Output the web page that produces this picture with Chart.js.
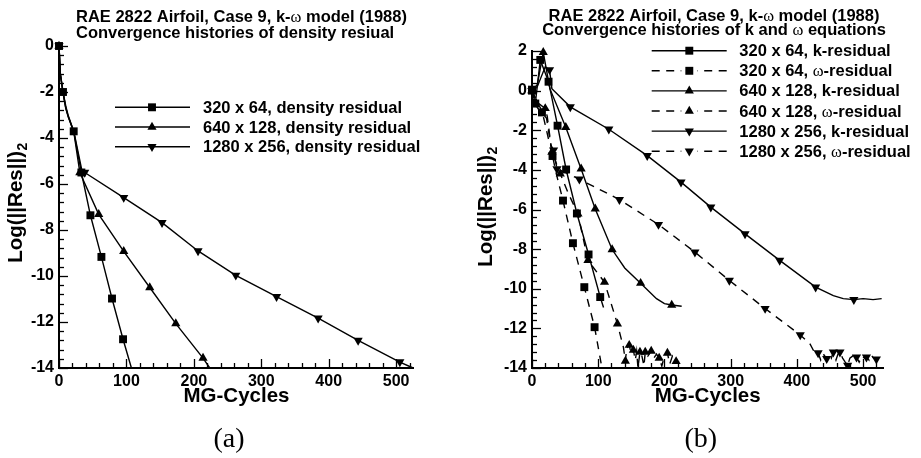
<!DOCTYPE html>
<html>
<head>
<meta charset="utf-8">
<script src="https://cdn.jsdelivr.net/npm/chart.js@4.4.1/dist/chart.umd.min.js"></script>
<style>
  html, body { margin: 0; padding: 0; background: #fff; }
  #wrap { position: relative; width: 921px; height: 458px; overflow: hidden; background: #fff; }
  canvas { position: absolute; top: 0; }
  #panelA { left: 0; }
  #panelB { left: 460px; }
</style>
</head>
<body>
<div id="wrap">
  <canvas id="panelA" width="460" height="458"></canvas>
  <canvas id="panelB" width="461" height="458"></canvas>
</div>
<script>
// ---- Panel (a): density residual histories (x = MG cycles, y = log10 of the L2 residual) ----
const cycA320 = [0, 2, 5.9, 10, 13.4, 21.8, 33.2, 46.6, 62.9, 78.6, 95, 107.4];
const resA320 = [0, -1.2, -2.0, -2.6, -3.0, -3.71, -5.5, -7.36, -9.17, -10.98, -12.75, -14];
const symA320 = [1, 0, 1, 0, 0, 1, 1, 1, 1, 1, 1, 0];

const cycA640 = [0, 2, 6, 10, 14, 22, 30.9, 58.9, 96, 134.6, 173.2, 213.6, 223.6];
const resA640 = [0, -1.25, -2.05, -2.7, -3.1, -3.75, -5.5, -7.32, -8.93, -10.5, -12.07, -13.57, -14];
const symA640 = [1, 0, 0, 0, 0, 0, 1, 1, 1, 1, 1, 1, 0];

const cycA1280 = [0, 2, 6, 10, 14, 22, 34, 38.1, 96, 152.8, 206.2, 262.2, 322.6, 384.3, 443.6, 505.5, 525.2];
const resA1280 = [0, -1.2, -2.0, -2.7, -3.1, -3.72, -5.42, -5.5, -6.59, -7.68, -8.91, -9.97, -10.9, -11.83, -12.8, -13.74, -14];
const symA1280 = [1, 0, 0, 0, 0, 0, 0, 1, 1, 1, 1, 1, 1, 1, 1, 1, 0];

// ---- Panel (b): k and omega equation residual histories ----
const cycB320k = [0, 5, 12.5, 25, 38.6, 51.5, 67.8, 85.4, 103, 108];
const resB320k = [0.05, -0.65, 1.55, 0.45, -1.77, -3.98, -6.2, -8.27, -10.42, -10.95];
const symB320k = [1, 1, 1, 1, 1, 1, 1, 1, 1, 0];

const cycB320w = [0, 5, 10, 15, 22, 31, 36, 46.8, 61.8, 79, 94.5, 105.6];
const resB320w = [0, -0.7, -0.95, -1.1, -1.4, -3.3, -4.1, -5.55, -7.7, -9.92, -11.94, -14];
const symB320w = [1, 0, 0, 1, 0, 1, 0, 1, 1, 1, 1, 0];

const cycB640k = [0, 8, 17, 27, 51, 74.2, 95.5, 121, 140, 164, 188, 200, 211, 226];
const resB640k = [0, 0.3, 1.93, 0.1, -1.85, -3.95, -5.97, -8.02, -8.95, -9.72, -10.5, -10.75, -10.82, -10.88];
const symB640k = [1, 0, 1, 0, 1, 1, 1, 1, 0, 1, 0, 0, 1, 0];

const cycB640w = [0, 8, 20, 23, 30, 42.7, 55, 69.4, 84.5, 109.5, 129, 138, 141, 143, 146.8, 150, 153, 156, 158, 160,
                  163, 166, 169, 171, 175, 180, 184, 188, 192, 196, 200, 204.5, 208, 212, 217.6, 222];
const resB640w = [0, -0.6, -0.9, -1.3, -3.1, -4.2, -5.2, -6.22, -8.57, -9.67, -11.77, -12.95, -13.65, -13.0, -12.85, -13.3, -13.1, -13.6, -13.15, -14,
                  -13.2, -13.4, -13.9, -13.2, -13.4, -13.15, -13.5, -13.3, -13.5, -13.9, -13.4, -13.25, -13.8, -13.4, -13.67, -13.7];
const symB640w = [1, 0, 1, 0, 1, 1, 0, 1, 1, 1, 1, 0, 1, 0, 1, 0, 1, 0, 0, 0,
                  1, 0, 0, 1, 0, 1, 0, 0, 1, 0, 0, 1, 0, 0, 1, 0];

const cycB1280k = [0, 8, 20, 26.5, 30, 57.8, 116, 174, 225, 270, 321.7, 374, 428.3, 455, 470, 486, 500, 515, 528];
const resB1280k = [0, 0.2, 1.2, 1.05, 0.1, -0.82, -1.95, -3.28, -4.62, -5.88, -7.23, -8.57, -9.92, -10.35, -10.5, -10.55, -10.5, -10.55, -10.5];
const symB1280k = [1, 0, 0, 1, 0, 1, 1, 1, 1, 1, 1, 1, 1, 0, 0, 1, 0, 0, 0];

const cycB1280w = [0, 8, 15, 26, 32.6, 37.7, 55, 71.5, 132, 191, 246, 298, 352, 405, 420, 428, 432, 436, 440, 445,
                   449, 452, 455, 459, 462, 465, 469, 473, 476.6, 480, 484, 487, 490, 494, 498, 502, 505, 509, 512, 516,
                   520, 524, 528];
const resB1280w = [0, -0.6, -1.0, -2.6, -3.0, -3.95, -4.2, -4.47, -5.5, -6.76, -8.15, -9.58, -11.0, -12.33, -12.8, -13.3, -13.24, -13.6, -13.3, -13.53,
                   -13.3, -13.5, -13.2, -13.6, -13.3, -13.2, -13.5, -13.7, -13.87, -13.5, -13.4, -13.6, -13.45, -13.7, -13.4, -13.5, -13.45, -13.6, -13.35, -13.5,
                   -13.55, -13.45, -13.55];
const symB1280w = [1, 0, 0, 0, 1, 1, 0, 1, 1, 1, 1, 1, 1, 1, 0, 0, 1, 0, 0, 1,
                   0, 0, 1, 0, 0, 1, 0, 0, 1, 0, 0, 0, 1, 0, 0, 0, 1, 0, 0, 0,
                   1, 0, 0];

// ---- Text ----
const titleA = ['RAE 2822 Airfoil, Case 9, k-ω model (1988)', 'Convergence histories of density resiual'];
const titleB = ['RAE 2822 Airfoil, Case 9, k-ω model (1988)', 'Convergence histories of k and ω equations'];
const legendA = ['320 x 64, density residual', '640 x 128, density residual', '1280 x 256, density residual'];
const legendB = ['320 x 64, k-residual', '320 x 64, ω-residual', '640 x 128, k-residual',
                 '640 x 128, ω-residual', '1280 x 256, k-residual', '1280 x 256, ω-residual'];
const xLabel = 'MG-Cycles';
const yLabel = 'Log(||Res||)';
const yLabelSub = '2';

const SANS = "'Liberation Sans', Arial, Helvetica, sans-serif";
const SERIF = "'Liberation Serif', 'Times New Roman', serif";
const INK = '#000';
const DASH = [8, 6.5];
const MARK_R = { sq: 5.6, up: 5.3, dn: 5.3 };

// Marker glyph with the same geometry Chart.js uses for 'rect' / 'triangle'
function glyph(ctx, sym, x, y) {
  const r = MARK_R[sym];
  ctx.beginPath();
  if (sym === 'sq') {
    const s = Math.SQRT1_2 * r;
    ctx.rect(x - s, y - s, 2 * s, 2 * s);
  } else {
    const k = sym === 'dn' ? -1 : 1;
    ctx.moveTo(x, y - k * r);
    ctx.lineTo(x + r * Math.cos(Math.PI / 6), y + k * r / 2);
    ctx.lineTo(x - r * Math.cos(Math.PI / 6), y + k * r / 2);
    ctx.closePath();
  }
  ctx.fill();
}

// Bold sans text with the Greek omega set in a lighter serif face
function richText(ctx, str, x, y, size, align) {
  const segs = [];
  str.split('ω').forEach((p, i, arr) => {
    if (p) segs.push({ t: p, f: `bold ${size}px ${SANS}` });
    if (i < arr.length - 1) segs.push({ t: 'ω', f: `${size}px ${SERIF}` });
  });
  let w = 0;
  segs.forEach(s => { ctx.font = s.f; s.w = ctx.measureText(s.t).width; w += s.w; });
  let cx = align === 'center' ? x - w / 2 : x;
  ctx.textAlign = 'left';
  segs.forEach(s => { ctx.font = s.f; ctx.fillText(s.t, cx, y); cx += s.w; });
}

const decor = {
  id: 'decor',
  beforeDatasetsDraw(chart, args, o) {
    const ctx = chart.ctx, xs = chart.scales.x, ys = chart.scales.y, a = chart.chartArea;
    ctx.save();
    ctx.strokeStyle = INK;
    ctx.lineWidth = 1.3;
    const seg = (x1, y1, x2, y2) => { ctx.beginPath(); ctx.moveTo(x1, y1); ctx.lineTo(x2, y2); ctx.stroke(); };
    // inward major / minor ticks (4 minor ticks between labels)
    for (let i = 0; i * 20 <= xs.max + 1e-9; i++) {
      const px = Math.round(xs.getPixelForValue(i * 20)) + 0.5;
      seg(px, a.bottom, px, a.bottom - (i % 5 === 0 ? 9 : 5));
    }
    for (let i = 0; ys.min + i * 0.4 <= ys.max + 1e-9; i++) {
      const py = Math.round(ys.getPixelForValue(ys.min + i * 0.4)) + 0.5;
      seg(a.left, py, a.left + (i % 5 === 0 ? 9 : 5), py);
    }
    ctx.restore();
  },
  afterDraw(chart, args, o) {
    const ctx = chart.ctx;
    ctx.save();
    ctx.fillStyle = INK;
    ctx.textBaseline = 'alphabetic';
    // two-line heading
    o.title.forEach((t, i) => richText(ctx, t, o.titleX, o.titleY[i], 16.5, o.titleAlign));
    // legend block
    o.legend.forEach((t, i) => {
      const y = o.legY0 + i * o.legDy;
      const s = o.series[i];
      ctx.strokeStyle = INK;
      ctx.lineWidth = 1.4;
      if (s.dash) {
        ctx.setLineDash(DASH);
        ctx.beginPath(); ctx.moveTo(o.legX0, y); ctx.lineTo(o.legXm - 8, y); ctx.stroke();
        ctx.beginPath(); ctx.moveTo(o.legX1, y); ctx.lineTo(o.legXm + 8, y); ctx.stroke();
        ctx.setLineDash([]);
      } else {
        ctx.beginPath(); ctx.moveTo(o.legX0, y); ctx.lineTo(o.legX1, y); ctx.stroke();
      }
      glyph(ctx, s.sym, o.legXm, y);
      richText(ctx, t, o.legText, y + 5.5, 16.5, 'left');
    });
    // x axis title
    ctx.font = `bold 20.5px ${SANS}`;
    ctx.textAlign = 'center';
    ctx.fillText(xLabel, o.xTitle[0], o.xTitle[1]);
    // rotated y axis title with subscript
    ctx.save();
    ctx.translate(o.yTitle[0], o.yTitle[1]);
    ctx.rotate(-Math.PI / 2);
    ctx.textAlign = 'left';
    ctx.font = `bold 20.5px ${SANS}`;
    const w1 = ctx.measureText(yLabel).width;
    ctx.font = `bold 14px ${SANS}`;
    const w2 = ctx.measureText(yLabelSub).width;
    const x0 = -(w1 + w2) / 2;
    ctx.font = `bold 20.5px ${SANS}`;
    ctx.fillText(yLabel, x0, 0);
    ctx.font = `bold 14px ${SANS}`;
    ctx.fillText(yLabelSub, x0 + w1 + 0.5, 5);
    ctx.restore();
    // panel caption
    ctx.font = `28px ${SERIF}`;
    ctx.textAlign = 'center';
    ctx.fillText(o.caption, o.capXY[0], o.capXY[1]);
    ctx.restore();
  }
};

function toDatasets(list) {
  return list.map(s => ({
    data: s.cyc.map((x, i) => ({ x, y: s.res[i] })),
    showLine: true,
    borderColor: INK,
    borderWidth: 1.4,
    borderDash: s.dash ? DASH : [],
    tension: 0,
    pointStyle: s.sym === 'sq' ? 'rect' : 'triangle',
    pointRotation: s.sym === 'dn' ? 180 : 0,
    pointRadius: c => (s.marks[c.dataIndex] ? MARK_R[s.sym] : 0),
    pointHoverRadius: 0,
    pointBackgroundColor: INK,
    pointBorderColor: INK,
    pointBorderWidth: 0,
    clip: { left: 12, top: 12, right: 12, bottom: 1 }
  }));
}

function buildPanel(id, list, cfg) {
  const tickFont = { family: SANS, size: 16, weight: 'bold' };
  return new Chart(document.getElementById(id), {
    type: 'scatter',
    data: { datasets: toDatasets(list) },
    options: {
      responsive: false,
      animation: false,
      events: [],
      layout: { padding: { left: 0, top: cfg.top, right: cfg.right, bottom: 0 } },
      plugins: {
        legend: { display: false },
        tooltip: { enabled: false },
        decor: Object.assign({ series: list }, cfg)
      },
      scales: {
        x: {
          type: 'linear', min: 0, max: cfg.xMax,
          afterFit: s => { s.height = 90; },
          grid: { display: false, drawTicks: false },
          border: { display: true, color: INK, width: 2 },
          ticks: { stepSize: 100, includeBounds: false, padding: 4, color: INK, font: tickFont,
                   maxRotation: 0, autoSkip: false }
        },
        y: {
          type: 'linear', min: -14, max: cfg.yMax,
          afterFit: s => { s.width = cfg.yW; },
          grid: { display: false, drawTicks: false },
          border: { display: true, color: INK, width: 2 },
          ticks: { stepSize: 2, includeBounds: false, padding: 5, color: INK, font: tickFont, autoSkip: false }
        }
      }
    },
    plugins: [decor]
  });
}

buildPanel('panelA', [
  { cyc: cycA320, res: resA320, marks: symA320, sym: 'sq', dash: false },
  { cyc: cycA640, res: resA640, marks: symA640, sym: 'up', dash: false },
  { cyc: cycA1280, res: resA1280, marks: symA1280, sym: 'dn', dash: false }
], {
  top: 46, right: 47, yW: 59, xMax: 525, yMax: 0,
  title: titleA, titleX: 76, titleY: [22, 37.5], titleAlign: 'left',
  legend: legendA, legX0: 115, legX1: 190, legXm: 152, legText: 203, legY0: 107.3, legDy: 19.7,
  xTitle: [236.5, 402], yTitle: [22, 203], caption: '(a)', capXY: [229, 447]
});

buildPanel('panelB', [
  { cyc: cycB320k, res: resB320k, marks: symB320k, sym: 'sq', dash: false },
  { cyc: cycB320w, res: resB320w, marks: symB320w, sym: 'sq', dash: true },
  { cyc: cycB640k, res: resB640k, marks: symB640k, sym: 'up', dash: false },
  { cyc: cycB640w, res: resB640w, marks: symB640w, sym: 'up', dash: true },
  { cyc: cycB1280k, res: resB1280k, marks: symB1280k, sym: 'dn', dash: false },
  { cyc: cycB1280w, res: resB1280w, marks: symB1280w, sym: 'dn', dash: true }
], {
  top: 51, right: 38, yW: 72, xMax: 530, yMax: 2,
  title: titleB, titleX: 254, titleY: [21, 35], titleAlign: 'center',
  legend: legendB, legX0: 191.7, legX1: 266.7, legXm: 229.3, legText: 279.3, legY0: 50.7, legDy: 20.1,
  xTitle: [247.7, 402], yTitle: [32, 207], caption: '(b)', capXY: [240.8, 447]
});
</script>
</body>
</html>
